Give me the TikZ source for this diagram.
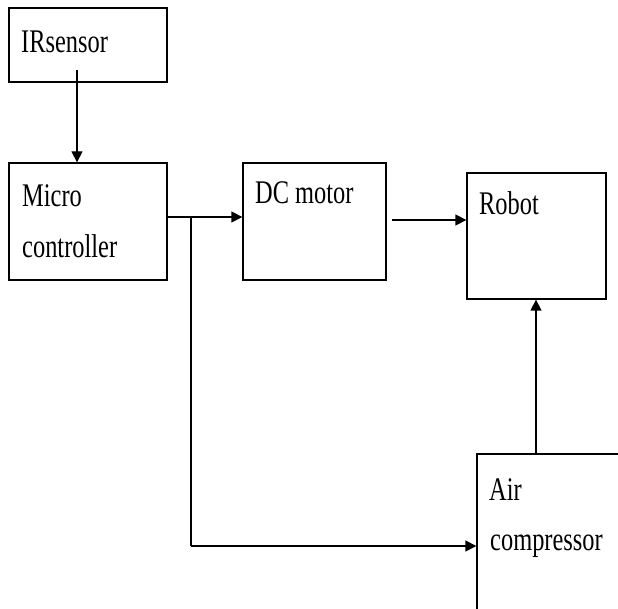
\documentclass[tikz,border=0pt]{standalone}
\usepackage{fontspec}
\setmainfont{Liberation Serif}[FakeStretch=0.74]
\usetikzlibrary{arrows.meta}
\begin{document}
\begin{tikzpicture}[x=1pt,y=-1pt,
  box/.style={draw=black,line width=1.3pt,rectangle,inner sep=0pt},
  lbl/.style={anchor=base west,inner sep=0pt,font=\fontsize{33}{51}\selectfont},
  conn/.style={line width=1.3pt,-{Triangle[length=11pt,width=11pt]}},
  plain/.style={line width=1.3pt}]
\useasboundingbox (0,0) rectangle (618,609);
\clip (0,0) rectangle (618,609);
\node[box,minimum width=158pt,minimum height=74pt] (ir) at (88,45) {};
\node[box,minimum width=158pt,minimum height=117pt] (mc) at (88,221.5) {};
\node[box,minimum width=143pt,minimum height=117pt] (dc) at (314.5,221.5) {};
\node[box,minimum width=139pt,minimum height=126pt] (rb) at (536.5,236) {};
\node[box,minimum width=163pt,minimum height=206pt] (ac) at (558.5,557) {};
\node[lbl] (irt) at (21,53) {IRsensor};
\node[lbl] (mct1) at (22,207) {Micro};
\node[lbl] (mct2) at (22,258) {controller};
\node[lbl] (dct) at (255,204) {DC motor};
\node[lbl] (rbt) at (479,215) {Robot};
\node[lbl] (act1) at (489,500) {Air};
\node[lbl] (act2) at (490,550) {compressor};
\coordinate (irs) at (77,70);
\coordinate (br) at (191,217);
\coordinate (bb) at (191,546);
\coordinate (dcs) at (392,220);
\draw[conn] (irs) -- (irs |- mc.north);
\draw[conn] (mc.east |- br) -- (dc.west |- br);
\draw[plain] (br) -- (bb);
\draw[conn] (bb) -- (ac.west |- bb);
\draw[conn] (dcs) -- (rb.west |- dcs);
\draw[conn] (ac.north -| 536,0) -- (rb.south -| 536,0);
\end{tikzpicture}
\end{document}
